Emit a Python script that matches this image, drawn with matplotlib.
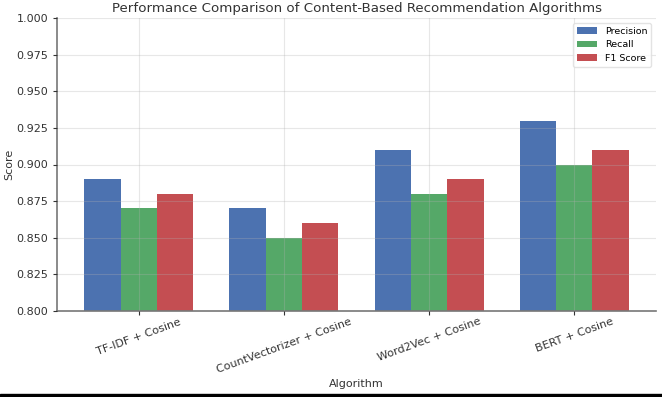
import numpy as np
import matplotlib.pyplot as plt
from matplotlib.patches import Rectangle

# Dados do gráfico
algorithms = ["TF-IDF + Cosine", "CountVectorizer + Cosine", "Word2Vec + Cosine", "BERT + Cosine"]
precision = [0.89, 0.87, 0.91, 0.93]
recall = [0.87, 0.85, 0.88, 0.90]
f1_score = [0.88, 0.86, 0.89, 0.91]
y_ticks = [0.800, 0.825, 0.850, 0.875, 0.900, 0.925, 0.950, 0.975, 1.000]

plt.rcParams['font.family'] = ['DejaVu Sans']

fig = plt.figure(figsize=(6.62, 3.97), dpi=100)
ax = fig.add_axes([57 / 662, 1 - 311 / 397, (656 - 57) / 662, (311 - 18) / 397])

x = np.arange(len(algorithms))
width = 0.25

ax.bar(x - width, precision, width, label="Precision", color="#4c72b0")
ax.bar(x, recall, width, label="Recall", color="#55a868")
ax.bar(x + width, f1_score, width, label="F1 Score", color="#c44e52")

ax.set_ylim(0.8, 1.0)
ax.set_yticks(y_ticks)
ax.set_yticklabels([f"{t:.3f}" for t in y_ticks])
ax.set_xticks(x)
ax.set_xticklabels(algorithms, rotation=20, ha="center")

ax.set_title("Performance Comparison of Content-Based Recommendation Algorithms",
             fontsize=9.6, color="#333333", pad=4)
ax.set_xlabel("Algorithm", fontsize=8, color="#333333", labelpad=3)
ax.set_ylabel("Score", fontsize=8, color="#333333", labelpad=1)

ax.grid(True, color="#b0b0b0", alpha=0.3, linewidth=0.8)
ax.set_axisbelow(False)

for side in ["top", "right"]:
    ax.spines[side].set_visible(False)
for side in ["left", "bottom"]:
    ax.spines[side].set_color("#777777")
    ax.spines[side].set_linewidth(1.2)
ax.tick_params(axis="both", labelsize=8, colors="#333333", length=3, width=0.8)
ax.tick_params(axis="x", pad=1)

leg = ax.legend(loc="upper right", fontsize=6.8, frameon=True, handlelength=2.2)
leg.get_frame().set_edgecolor("#dddddd")

# faixa preta no rodapé (como na imagem)
fig.patches.append(Rectangle((0, 0), 1, 3 / 397, transform=fig.transFigure,
                             color="black", zorder=10))

plt.savefig("out.png", dpi=100)
